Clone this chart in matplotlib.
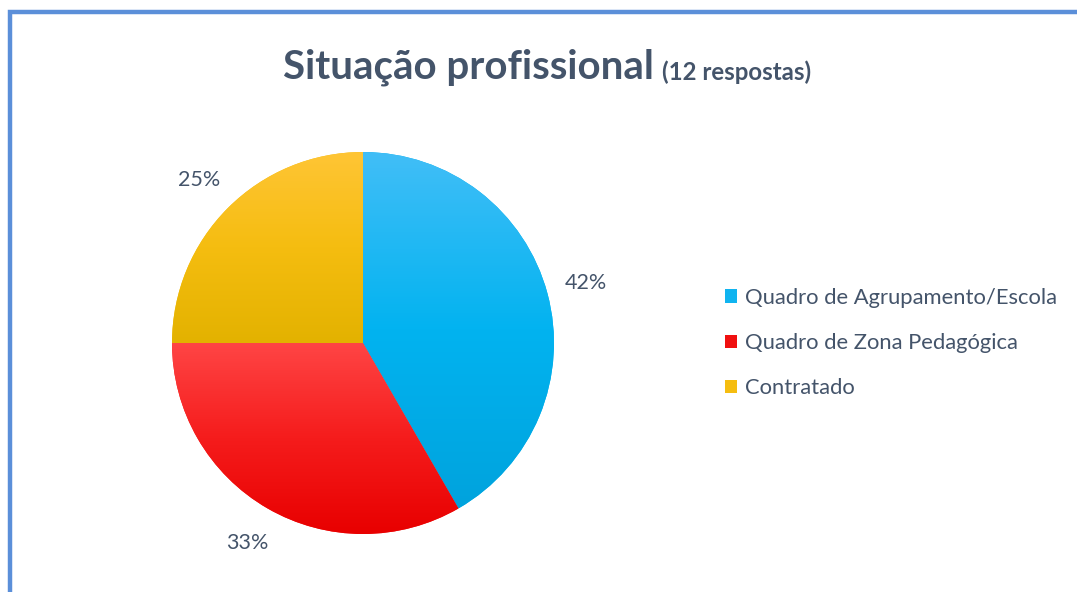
import numpy as np
import matplotlib.pyplot as plt
from matplotlib.patches import Rectangle, Patch
from matplotlib.colors import LinearSegmentedColormap

plt.rcParams['font.family'] = ['Lato', 'DejaVu Sans']

categories = ['Quadro de Agrupamento/Escola', 'Quadro de Zona Pedagógica', 'Contratado']
counts = [5, 4, 3]
pct_labels = ['42%', '33%', '25%']
top_colors = ['#42bef7', '#ff4545', '#ffc535']
mid_colors = ['#02b3f0', '#f51c1c', '#f5bd10']
bottom_colors = ['#00a3dd', '#e80000', '#e3b200']
legend_colors = ['#10b4f0', '#f01010', '#f5bd10']

W, H = 1077, 592
fig = plt.figure(figsize=(W / 100, H / 100), dpi=100)
ax = fig.add_axes([0, 0, 1, 1])

cx, cy, r = 363, H - 343, 191
wedges, _ = ax.pie(counts, colors=mid_colors, startangle=90, counterclock=False,
                   center=(cx, cy), radius=r, wedgeprops=dict(linewidth=0))
ax.set_xlim(0, W)
ax.set_ylim(0, H)
ax.axis('off')

# percentage labels outside the slices, centred on the mid-angle
for w, lab in zip(wedges, pct_labels):
    ang = np.deg2rad((w.theta1 + w.theta2) / 2)
    ax.text(cx + 1.21 * r * np.cos(ang), cy + 1.21 * r * np.sin(ang), lab,
            fontsize=15.5, color='#44546a', ha='center', va='center')

# vertical gradient inside each slice, spanning the slice's own height
grad = np.linspace(0, 1, 256).reshape(-1, 1)
for w, c0, cm, c1 in zip(wedges, top_colors, mid_colors, bottom_colors):
    ext = w.get_path().get_extents(w.get_patch_transform())
    cmap = LinearSegmentedColormap.from_list('g', [c1, cm, c0])
    im = ax.imshow(grad, cmap=cmap, origin='lower', aspect='auto',
                   extent=(ext.x0, ext.x1, ext.y0, ext.y1), zorder=1.5)
    im.set_clip_path(w)
ax.set_xlim(0, W)
ax.set_ylim(0, H)

# title
t1 = ax.text(283, H - 78, 'Situação profissional', fontsize=29, fontweight='bold',
             color='#44546a', ha='left', va='baseline')
ax.annotate('(12 respostas)', xy=(1, 0), xycoords=t1, xytext=(6, 1),
            textcoords='offset points', fontsize=17.3, fontweight='bold',
            color='#44546a', ha='left', va='bottom')

# legend
handles = [Patch(facecolor=c, label=l) for c, l in zip(legend_colors, categories)]
fig.legend(handles=handles, loc='center left', bbox_to_anchor=(714 / W, 1 - 343 / H),
           frameon=False, fontsize=15.8, labelcolor='#44546a', handlelength=0.55,
           handleheight=0.55, handletextpad=0.35, labelspacing=1.15, borderpad=0)

# outer border
fig.patches.append(Rectangle((10 / W, -0.1), 1.2, (H - 12) / H + 0.1, transform=fig.transFigure,
                             fill=False, edgecolor='#5b8fd9', linewidth=3.2))

fig.savefig('out.png', dpi=100)
